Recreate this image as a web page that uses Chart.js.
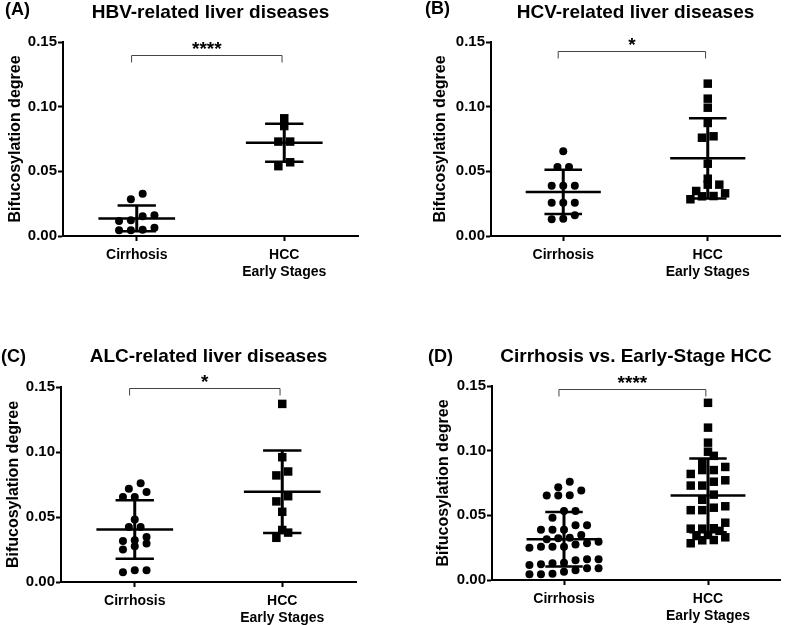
<!DOCTYPE html>
<html><head><meta charset="utf-8">
<script src="https://cdn.jsdelivr.net/npm/chart.js@4.4.0/dist/chart.umd.min.js"></script>
<style>
html,body{margin:0;padding:0;background:#fff}
body{width:786px;height:625px;position:relative;overflow:hidden}
.p{position:absolute}
canvas{display:block}
</style></head><body>
<div class="p" style="left:0;top:0"><canvas id="cA" width="393" height="300"></canvas></div>
<div class="p" style="left:393px;top:0"><canvas id="cB" width="393" height="300"></canvas></div>
<div class="p" style="left:0;top:305px"><canvas id="cC" width="393" height="320"></canvas></div>
<div class="p" style="left:393px;top:305px"><canvas id="cD" width="393" height="320"></canvas></div>
<script>
// ---------- data ----------
const categories = ['Cirrhosis', ['HCC', 'Early Stages']];
const yTicks = [0, 0.05, 0.10, 0.15];
const yAxisTitle = 'Bifucosylation degree';

const titles = ['HBV-related liver diseases', 'HCV-related liver diseases',
                'ALC-related liver diseases', 'Cirrhosis vs. Early-Stage HCC'];
const panelLabels = ['(A)', '(B)', '(C)', '(D)'];
const significance = ['****', '*', '*', '****'];

const hbvCirrhosis = [0.0327, 0.0284, 0.0116, 0.0160, 0.0152, 0.0121, 0.0049, 0.0044, 0.0044, 0.0064];
const hbvHCC = [0.091, 0.085, 0.073, 0.073, 0.057, 0.054];

const hcvCirrhosis = [0.0655, 0.0534, 0.0534, 0.0389, 0.0389, 0.0389, 0.0258, 0.0258, 0.0258, 0.0160, 0.0129, 0.0134];
const hcvHCC = [0.1178, 0.1062, 0.0992, 0.0874, 0.0771, 0.0760, 0.0559, 0.0397, 0.0397, 0.0443, 0.0348, 0.0309, 0.0284, 0.0307, 0.0330];

const alcCirrhosis = [0.0759, 0.0718, 0.0692, 0.0653, 0.0653, 0.0481, 0.0424, 0.0424, 0.0316, 0.0322, 0.0347, 0.0275, 0.0296, 0.0250, 0.0090, 0.0090, 0.0075];
const alcHCC = [0.137, 0.096, 0.085, 0.082, 0.066, 0.062, 0.054, 0.040, 0.034, 0.038];

// panel D pools all patients of panels A-C
const allCirrhosis = hbvCirrhosis.concat(hcvCirrhosis, alcCirrhosis);
const allHCC = hbvHCC.concat(hcvHCC, alcHCC);

// ---------- helpers ----------
const FONT = '"Liberation Sans", Arial, Helvetica, sans-serif';
const ROW_BIN = 0.0055;  // values closer than this share a row (marker overlap)
const SLOT = 0.08;       // horizontal spacing of markers in a row (x units)

function swarm(vals, center) {
  const idx = vals.map((v, i) => i).sort((a, b) => vals[a] - vals[b]);
  const rows = []; let cur = null;
  idx.forEach(i => {
    if (cur && vals[i] - vals[cur[0]] < ROW_BIN) cur.push(i);
    else { cur = [i]; rows.push(cur); }
  });
  const pts = [];
  rows.forEach(r => r.forEach((i, k) => pts.push({ x: center + (k - (r.length - 1) / 2) * SLOT, y: vals[i] })));
  return pts;
}
const mean = a => a.reduce((s, v) => s + v, 0) / a.length;
const sd = a => { const m = mean(a); return Math.sqrt(a.reduce((s, v) => s + (v - m) * (v - m), 0) / (a.length - 1)); };

const overlay = {
  id: 'overlay',
  afterDatasetsDraw(chart, args, o) {
    const { ctx, scales: { x, y } } = chart;
    ctx.save();
    ctx.strokeStyle = '#000';
    ctx.lineCap = 'butt';
    o.groups.forEach((vals, i) => {
      const m = mean(vals), s = sd(vals);
      const ym = y.getPixelForValue(m), yt = y.getPixelForValue(m + s), yb = y.getPixelForValue(m - s);
      const hl = (a, b, yy, w) => { ctx.lineWidth = w; ctx.beginPath(); ctx.moveTo(x.getPixelForValue(i + a), yy); ctx.lineTo(x.getPixelForValue(i + b), yy); ctx.stroke(); };
      hl(-0.26, 0.26, ym, 2.5);
      hl(-0.13, 0.13, yt, 2.5);
      hl(-0.13, 0.13, yb, 2.5);
      ctx.lineWidth = 3;
      ctx.beginPath(); ctx.moveTo(x.getPixelForValue(i), yt); ctx.lineTo(x.getPixelForValue(i), yb); ctx.stroke();
    });
    // significance bracket
    const bx0 = x.getPixelForValue(o.bx0), bx1 = x.getPixelForValue(o.bx1), by = Math.round(y.getPixelForValue(o.by)) + 0.5;
    ctx.strokeStyle = '#444'; ctx.lineWidth = 1;
    ctx.beginPath(); ctx.moveTo(bx0, by + 7); ctx.lineTo(bx0, by); ctx.lineTo(bx1, by); ctx.lineTo(bx1, by + 7); ctx.stroke();
    ctx.fillStyle = '#000';
    ctx.font = 'bold 19px ' + FONT;
    ctx.textAlign = 'center'; ctx.textBaseline = 'alphabetic';
    ctx.fillText(o.stars, (bx0 + bx1) / 2, by - 1);
    // panel label
    ctx.font = 'bold 18px ' + FONT;
    ctx.textAlign = 'left'; ctx.textBaseline = 'middle';
    ctx.fillText(o.label, o.lx, o.ly);
    ctx.restore();
  }
};

function makePanel(id, k, cirr, hcc, L) {
  const xFont = { family: FONT, size: 14, weight: 'bold' };
  const yFont = { family: FONT, size: 15, weight: 'bold' };
  new Chart(document.getElementById(id), {
    type: 'scatter',
    data: {
      datasets: [
        { data: swarm(cirr, 0), pointStyle: 'circle', pointRadius: 4, backgroundColor: '#000', borderColor: '#000', borderWidth: 0 },
        { data: swarm(hcc, 1), pointStyle: 'rect', pointRadius: 6, backgroundColor: '#000', borderColor: '#000', borderWidth: 0 }
      ]
    },
    options: {
      responsive: false, animation: false, events: [],
      layout: { padding: { left: L.padL, right: L.padR, top: 0, bottom: 0 } },
      plugins: {
        legend: { display: false }, tooltip: { enabled: false },
        title: { display: true, text: titles[k], color: '#000', fullSize: false,
          font: { family: FONT, size: 19, weight: 'bold' }, padding: { top: L.tTop, bottom: L.tBot } },
        overlay: { groups: [cirr, hcc], bx0: -0.035, bx1: 0.985, by: L.by, stars: significance[k], label: panelLabels[k], lx: L.lx, ly: L.ly }
      },
      scales: {
        x: {
          type: 'linear', min: -0.5, max: 1.5,
          afterBuildTicks: s => { s.ticks = categories.map((c, i) => ({ value: i })); },
          ticks: { callback: v => categories[v], font: xFont, color: '#000', padding: 6, maxRotation: 0, autoSkip: false },
          grid: { drawOnChartArea: false, drawTicks: true, tickLength: 5, tickColor: '#000', tickWidth: 2 },
          border: { display: true, color: '#000', width: 2 },
          afterFit: s => { s.height = L.xH; }
        },
        y: {
          min: 0, max: 0.15,
          afterBuildTicks: s => { s.ticks = yTicks.map(v => ({ value: v })); },
          ticks: { callback: v => v.toFixed(2), font: yFont, color: '#000', padding: 1 },
          grid: { drawOnChartArea: false, drawTicks: true, tickLength: 5, tickColor: '#000', tickWidth: 2 },
          border: { display: true, color: '#000', width: 2 },
          title: { display: true, text: yAxisTitle, color: '#000', font: { family: FONT, size: 16, weight: 'bold' }, padding: { top: L.yTitlePad, bottom: 0 } },
          afterFit: s => { s.width = L.yW; }
        }
      }
    },
    plugins: [overlay]
  });
}

makePanel('cA', 0, hbvCirrhosis, hbvHCC, { padL: 0, padR: 35, yW: 63, yTitlePad: 5.7, tTop: 1.1, tBot: 18.1, xH: 64, by: 0.140, lx: 5, ly: 10 });
makePanel('cB', 1, hcvCirrhosis, hcvHCC, { padL: 35, padR: 3, yW: 63, yTitlePad: 3.4, tTop: 0.9, tBot: 18.3, xH: 64, by: 0.143, lx: 32, ly: 9 });
makePanel('cC', 2, alcCirrhosis, alcHCC, { padL: 0, padR: 37, yW: 61, yTitlePad: 4.4, tTop: 40.6, tBot: 18.6, xH: 43, by: 0.149, lx: 1, ly: 52 });
makePanel('cD', 3, allCirrhosis, allHCC, { padL: 36, padR: 3, yW: 63, yTitlePad: 5.4, tTop: 40.3, tBot: 17.9, xH: 45, by: 0.1475, lx: 35, ly: 52 });
</script>
</body></html>
